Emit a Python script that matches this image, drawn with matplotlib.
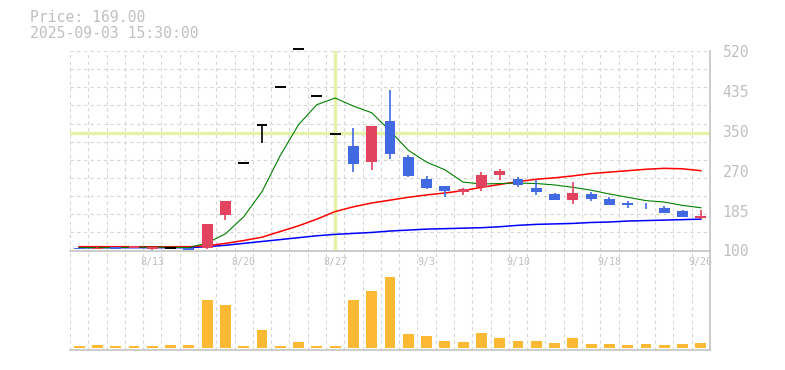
import matplotlib
matplotlib.use('Agg')
import matplotlib.pyplot as plt

# trading days shown on the chart
dates = ['8/6', '8/7', '8/8', '8/12', '8/13', '8/14', '8/15', '8/18', '8/19', '8/20',
         '8/21', '8/22', '8/25', '8/26', '8/27', '8/28', '8/29', '9/1', '9/2', '9/3',
         '9/4', '9/5', '9/8', '9/9', '9/10', '9/11', '9/12', '9/16', '9/17', '9/18',
         '9/19', '9/22', '9/24', '9/25', '9/26']

opens = [106, 104, 107, 105, 104, 105, 105, 105, 174, 285,
         365, 445, 525, 425, 345, 320, 287, 373, 297, 250,
         236, 223, 233, 258, 251, 232, 218, 206, 218, 209,
         201, 194, 190, 183, 168]
highs = [106, 108, 107, 110, 107, 106, 105, 155, 205, 285,
         365, 445, 525, 425, 345, 358, 363, 438, 301, 257,
         236, 232, 266, 272, 255, 249, 222, 244, 223, 212,
         204, 199, 193, 186, 185]
lows = [104, 104, 104, 105, 102, 103, 101, 104, 164, 285,
        327, 445, 525, 425, 345, 265, 270, 293, 254, 229,
        212, 216, 225, 249, 234, 216, 206, 198, 205, 195,
        190, 188, 178, 170, 166]
closes = [104, 106, 104, 110, 107, 105, 101, 155, 205, 285,
          365, 445, 525, 425, 345, 283, 363, 304, 256, 232,
          225, 229, 260, 268, 237, 223, 206, 222, 208, 195,
          195, 193, 180, 170, 172]

# volume (thousand shares)
volumes = [20, 30, 20, 20, 20, 30, 30, 480, 430, 20,
           180, 20, 60, 20, 20, 480, 570, 710, 140, 120,
           70, 60, 150, 100, 70, 70, 50, 100, 40, 40,
           30, 40, 30, 40, 50]

# moving averages as drawn (5 / 25 / 75 day)
ma5 = [106, 106, 106, 107, 107, 107, 106, 116, 135, 171,
       224, 300, 365, 407, 421, 404, 390, 352, 311, 286,
       270, 244, 240, 241, 242, 241, 238, 233, 227, 219,
       212, 205, 202, 195, 190]
ma25 = [108, 108, 108, 108, 108, 108, 108, 110, 115, 121,
        128, 140, 152, 166, 182, 192, 200, 206, 212, 217,
        221, 226, 233, 239, 245, 250, 253, 257, 262, 265,
        268, 271, 273, 272, 268]
ma75 = [106, 106, 106, 106, 106, 106, 106, 108, 111, 115,
        119, 123, 127, 131, 134, 136, 138, 141, 143, 145,
        146, 147, 148, 150, 153, 155, 156, 157, 159, 160,
        162, 163, 164, 165, 166]

label_idx = [4, 9, 14, 19, 24, 29, 34]
price_ticks = [100, 184, 268, 352, 436, 520]
price_labels = ['100', '185', '270', '350', '435', '520']

cross_idx = 14
cross_price = 348

UP = '#e2435f'
DOWN = '#4169e1'
GRID = '#d6d6d6'
AXIS = '#c4c4c4'
TXT = '#c0c0c0'
MONO = 'DejaVu Sans Mono'

W, H = 785, 370
fig = plt.figure(figsize=(W / 100, H / 100), dpi=100)
fig.patch.set_facecolor('white')

left, right = 70, 710
ax = fig.add_axes([left / W, (H - 250.5) / H, (right - left) / W, 199.5 / H])
axv = fig.add_axes([left / W, (H - 350) / H, (right - left) / W, 100 / H], sharex=ax)

n = len(dates)
xs = list(range(n))

for a in (ax, axv):
    a.set_facecolor('none')
    for s in ('top', 'left'):
        a.spines[s].set_visible(False)
    for s in ('bottom', 'right'):
        a.spines[s].set_color(AXIS)
        a.spines[s].set_linewidth(1.2)
    # vertical dashed grid between candles
    for k in range(n):
        a.axvline(k - 0.5, color=GRID, lw=0.8, ls=(0, (3, 3)), zorder=0)

ax.set_xlim(-0.5, n - 0.5)
ax.set_ylim(100, 520)

# horizontal dashed grid (11 rows, not tied to the labels)
for i in range(1, 12):
    ax.axhline(100 + 420 * i / 11, color=GRID, lw=0.8, ls=(0, (3, 3)), zorder=0)

# crosshair
ax.axvline(cross_idx, color='#e3f3a9', lw=2.4, zorder=1)
ax.axhline(cross_price, color='#e3f3a9', lw=2.4, zorder=1)

# moving averages
ax.plot(xs, ma75, color='#0000ff', lw=1.1, zorder=2)
ax.plot(xs, ma25, color='#ff0000', lw=1.1, zorder=2)
ax.plot(xs, ma5, color='#008000', lw=0.8, zorder=2)

# candles
bw = 0.6
for k in xs:
    o, h, l, c = opens[k], highs[k], lows[k], closes[k]
    if c > o:
        col = UP
    elif c < o:
        col = DOWN
    else:
        col = 'black'
    ax.vlines(k, l, h, color=col, lw=1.2, zorder=3, clip_on=False)
    if c == o:
        ax.hlines(c, k - bw / 2, k + bw / 2, color=col, lw=1.4, zorder=3, clip_on=False)
    else:
        ax.bar(k, abs(c - o), bottom=min(o, c), width=bw, color=col, zorder=4)

ax.set_yticks(price_ticks)
ax.set_yticklabels(price_labels, fontfamily=MONO, fontsize=10.6, color=TXT)
ax.yaxis.tick_right()
ax.tick_params(axis='y', length=0, pad=9)
ax.tick_params(axis='x', length=0, labelbottom=False)

# volume panel
axv.bar(xs, volumes, width=bw, color='#fdb934', zorder=2)
axv.set_ylim(-20, 980)
axv.set_yticks([])
axv.tick_params(axis='x', length=0, labelbottom=False)
for k in label_idx:
    axv.text(k, 0.88, dates[k], transform=axv.get_xaxis_transform(),
             ha='center', va='center', fontfamily=MONO, fontsize=7.2, color=TXT)

fig.text(30 / W, 1 - 18 / H, 'Price: 169.00', fontfamily=MONO, fontsize=10.6,
         color=TXT, ha='left', va='center')
fig.text(30 / W, 1 - 33 / H, '2025-09-03 15:30:00', fontfamily=MONO, fontsize=10.6,
         color=TXT, ha='left', va='center')

fig.savefig('out.png', dpi=100, facecolor='white')
